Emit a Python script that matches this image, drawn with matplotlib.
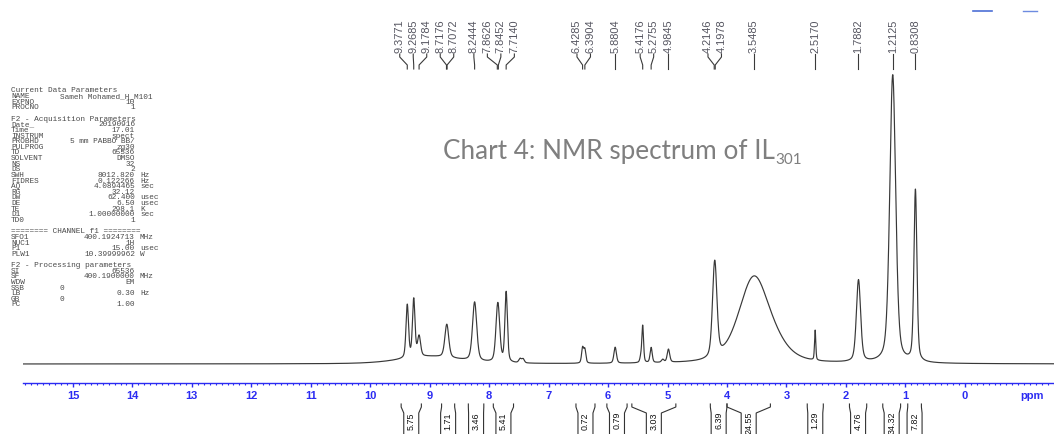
import numpy as np
import matplotlib
matplotlib.use('Agg')
import matplotlib.pyplot as plt
from matplotlib.ticker import MultipleLocator
from matplotlib.transforms import blended_transform_factory
from matplotlib.lines import Line2D

W, H = 1054, 434

# chemical shifts printed above the spectrum
shift_labels = [9.3771, 9.2685, 9.1784, 8.7176, 8.7072, 8.2444, 7.8626, 7.8452,
                7.7140, 6.4285, 6.3904, 5.8804, 5.4176, 5.2755, 4.9845, 4.2146,
                4.1978, 3.5485, 2.5170, 1.7882, 1.2125, 0.8308]

# peaks (ppm, height in % of tallest, width at half height in ppm)
peak_ppm = [9.3771, 9.2685, 9.1784, 8.7176, 8.7072, 8.2444, 7.8626, 7.8452,
            7.7140, 7.48, 7.43, 6.4285, 6.3904, 5.8804, 5.45, 5.4176, 5.2755,
            5.08, 4.9845, 4.2146, 4.1978, 3.5485, 3.15, 2.5170, 1.7882, 1.2125, 0.8308]
peak_height = [18.2, 19.9, 6.9, 5.8, 5.8, 20.3, 10.7, 10.7,
               24.1, 1.4, 1.4, 5.2, 4.6, 5.5, 1.7, 12.7, 5.2,
               1.0, 4.5, 17.0, 17.0, 29.2, 3.0, 10.3, 28.2, 99.0, 59.0]
peak_fwhm = [0.05, 0.05, 0.06, 0.076, 0.076, 0.084, 0.07, 0.07,
             0.05, 0.05, 0.05, 0.04, 0.04, 0.05, 0.035, 0.034, 0.042,
             0.05, 0.05, 0.084, 0.084, 0.60, 0.60, 0.025, 0.084, 0.118, 0.059]
# broad hump under the aromatic signals
hump_ppm, hump_height, hump_fwhm = 9.0, 2.5, 1.2

# integrals below the axis
int_start = [9.48, 8.80, 8.35, 7.93, 6.54, 6.02, 5.60, 4.28, 4.00, 2.65, 1.94, 1.38, 0.96]
int_end = [9.14, 8.58, 8.09, 7.59, 6.22, 5.68, 4.86, 4.00, 3.27, 2.38, 1.65, 1.08, 0.73]
int_values = ['5.75', '1.71', '3.46', '5.41', '0.72', '0.79', '3.03', '6.39',
              '24.55', '1.29', '4.76', '34.32', '7.82']

ppm_ticks = list(range(0, 16))

param_rows = [
    ('Current Data Parameters', '', ''),
    ('NAME', 'Sameh Mohamed_H_M101', ''),
    ('EXPNO', '10', ''),
    ('PROCNO', '1', ''),
    None,
    ('F2 - Acquisition Parameters', '', ''),
    ('Date_', '20190916', ''),
    ('Time', '17.01', ''),
    ('INSTRUM', 'spect', ''),
    ('PROBHD', '5 mm PABBO BB/', ''),
    ('PULPROG', 'zg30', ''),
    ('TD', '65536', ''),
    ('SOLVENT', 'DMSO', ''),
    ('NS', '32', ''),
    ('DS', '2', ''),
    ('SWH', '8012.820', 'Hz'),
    ('FIDRES', '0.122266', 'Hz'),
    ('AQ', '4.0894465', 'sec'),
    ('RG', '32.12', ''),
    ('DW', '62.400', 'usec'),
    ('DE', '6.50', 'usec'),
    ('TE', '298.1', 'K'),
    ('D1', '1.00000000', 'sec'),
    ('TD0', '1', ''),
    None,
    ('======== CHANNEL f1 ========', '', ''),
    ('SFO1', '400.1924713', 'MHz'),
    ('NUC1', '1H', ''),
    ('P1', '15.00', 'usec'),
    ('PLW1', '10.39999962', 'W'),
    None,
    ('F2 - Processing parameters', '', ''),
    ('SI', '65536', ''),
    ('SF', '400.1900000', 'MHz'),
    ('WDW', 'EM', ''),
    ('SSB', '0', ''),
    ('LB', '0.30', 'Hz'),
    ('GB', '0', ''),
    ('PC', '1.00', ''),
]

BLUE = '#2b2bf2'
TRACE = '#383838'


def fx(px):
    return px / W


def fy(py):
    return 1 - py / H


def pvoigt(x, x0, h, fwhm, eta=0.4):
    d = (x - x0) / fwhm
    return h * (eta / (1 + 4 * d ** 2) + (1 - eta) * np.exp(-4 * np.log(2) * d ** 2))


def spread(vals, gap):
    pos = np.array(vals, dtype=float)
    for _ in range(2000):
        over = np.clip(gap - (pos[:-1] - pos[1:]), 0, None)
        if over.max() < 1e-5:
            break
        pos[:-1] += over / 2
        pos[1:] -= over / 2
    return pos


fig = plt.figure(figsize=(W / 100, H / 100), dpi=100)
fig.patch.set_facecolor('white')

# axis: left edge at x=23 px, spine at y=383 px, baseline at y=364 px
ax = fig.add_axes([fx(23), fy(383), fx(W - 23), 383 / H])
ax.patch.set_alpha(0)
x_left, x_right = 15.84, -1.50
ax.set_xlim(x_left, x_right)
px_per_unit = 2.91
ax.set_ylim(-(383 - 364) / px_per_unit, 364 / px_per_unit)

x = np.linspace(x_left, x_right, 40000)
y = pvoigt(x, hump_ppm, hump_height, hump_fwhm)
for p, h, w in zip(peak_ppm, peak_height, peak_fwhm):
    y = y + pvoigt(x, p, h, w)
ax.plot(x, y, color=TRACE, lw=0.85)

for s in ['left', 'right', 'top']:
    ax.spines[s].set_visible(False)
ax.spines['bottom'].set_color(BLUE)
ax.spines['bottom'].set_linewidth(1.0)
ax.set_yticks([])
ax.set_xticks(ppm_ticks)
ax.set_xticklabels([str(t) for t in ppm_ticks], fontweight='bold',
                   family='Liberation Sans')
ax.xaxis.set_minor_locator(MultipleLocator(0.1))
ax.tick_params(axis='x', which='major', direction='out', length=3, width=1,
               color=BLUE, labelcolor=BLUE, labelsize=8, pad=3)
ax.tick_params(axis='x', which='minor', direction='out', length=1.5, width=0.8,
               color=BLUE)

blend = blended_transform_factory(ax.transData, fig.transFigure)
ax.text(-0.93, fy(396), 'ppm', transform=blend, ha='left', va='center',
        fontsize=8, fontweight='bold', color=BLUE, family='Liberation Sans',
        clip_on=False)

# peak labels with connectors
label_pos = spread(shift_labels, 0.227)
for ppm, lp in zip(shift_labels, label_pos):
    ax.text(lp, fy(53), f'{ppm:.4f}', transform=blend, rotation=90, ha='center',
            va='bottom', fontsize=7.9, color='#555560', family='Liberation Sans',
            clip_on=False)
    ax.plot([lp, lp, ppm, ppm], [fy(54), fy(57), fy(65), fy(69)], transform=blend,
            color='#3a3a3a', lw=0.8, clip_on=False)

# integrals
half = 7.5 / 59.47
for a, b, val in zip(int_start, int_end, int_values):
    mid = (a + b) / 2
    ax.plot([a, a, mid + half, mid + half], [fy(404), fy(407), fy(413), fy(440)],
            transform=blend, color='#333333', lw=0.8, clip_on=False)
    ax.plot([b, b, mid - half, mid - half], [fy(404), fy(407), fy(413), fy(440)],
            transform=blend, color='#333333', lw=0.8, clip_on=False)
    ax.text(mid, fy(412), val, transform=blend, rotation=90, ha='center', va='top',
            fontsize=6.4, color='#111111', family='Liberation Sans', clip_on=False)

# acquisition / processing parameters
y0, dy = 91, 5.63
for i, row in enumerate(param_rows):
    if row is None:
        continue
    key, val, unit = row
    yy = fy(y0 + i * dy)
    kw = dict(fontsize=5.6, color='#4a4a4a', family='Liberation Mono', va='center')
    fig.text(fx(11), yy, key, ha='left', **kw)
    if val:
        if len(val) > 14 or key in ('SSB', 'GB'):
            fig.text(fx(60), yy, val, ha='left', **kw)
        else:
            fig.text(fx(135), yy, val, ha='right', **kw)
    if unit:
        fig.text(fx(140), yy, unit, ha='left', **kw)

# caption
t = fig.text(fx(443), fy(159.5), 'Chart 4: NMR spectrum of IL', ha='left',
             va='baseline', fontsize=18.8, color='#7f7f7f', family='Lato')
fig.canvas.draw()
bb = t.get_window_extent()
fig.text(bb.x1 / W, fy(163.5), '301', ha='left', va='baseline', fontsize=11,
         color='#7f7f7f', family='Lato')

# small blue marks at the top right
fig.add_artist(Line2D([fx(973), fx(992)], [fy(10.5), fy(10.5)], color='#4d6fd6', lw=1.2))
fig.add_artist(Line2D([fx(1023), fx(1037)], [fy(10.5), fy(10.5)], color='#6d8be0', lw=1.0))

fig.savefig('out.png', dpi=100)
